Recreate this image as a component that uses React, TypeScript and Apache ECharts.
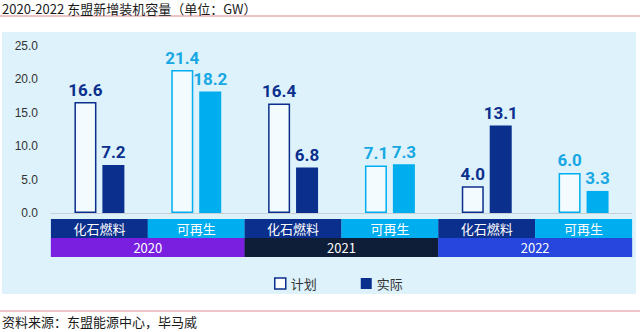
import React, { useEffect, useRef } from "react";
import * as echarts from "echarts";

const subCategories = ["化石燃料", "可再生", "化石燃料", "可再生", "化石燃料", "可再生"];
const years = ["2020", "2021", "2022"];
const planValues = [16.6, 21.4, 16.4, 7.1, 4.0, 6.0];
const actualValues = [7.2, 18.2, 6.8, 7.3, 13.1, 3.3];
const yTicks = [0, 5, 10, 15, 20, 25];

const NAVY = "#0b2f8c";
const CYAN = "#00aeef";
const CYAN_TEXT = "#17a8e3";
const YEAR_COLORS = ["#7a1ee0", "#0e1d38", "#2646de"];
const NUM_FONT = "Roboto, 'Liberation Sans', Arial, sans-serif";
const CJK_FONT = "'Noto Sans CJK SC', 'Noto Sans', sans-serif";

export default function App() {
  const ref = useRef<HTMLDivElement>(null);

  useEffect(() => {
    document.body.style.margin = "0";
    if (!ref.current) return;
    const chart = echarts.init(ref.current, undefined, { renderer: "svg" });

    const isFossil = (i: number) => subCategories[i] === "化石燃料";

    const option: any = {
      animation: false,
      backgroundColor: "#ffffff",
      graphic: [
        { type: "rect", z: -10, shape: { x: 2, y: 32, width: 634, height: 262 }, style: { fill: "#ddf2fb" } },
        { type: "line", shape: { x1: 0, y1: 16, x2: 640, y2: 16 }, style: { stroke: "#e08a93", lineWidth: 1.2 } },
        { type: "line", shape: { x1: 0, y1: 311, x2: 640, y2: 311 }, style: { stroke: "#e08a93", lineWidth: 1.2 } },
        {
          type: "text", left: 2, top: 2,
          style: { text: "2020-2022 东盟新增装机容量（单位：GW）", fill: "#1a1a1a", font: `13px ${CJK_FONT}` },
        },
        {
          type: "text", left: 2, top: 315,
          style: { text: "资料来源：东盟能源中心，毕马威", fill: "#1a1a1a", font: `13px ${CJK_FONT}` },
        },
      ],
      legend: {
        left: 269,
        top: 272,
        itemWidth: 11,
        itemHeight: 11,
        itemGap: 44,
        icon: "rect",
        textStyle: { color: "#333", fontSize: 13, fontFamily: CJK_FONT },
        data: [
          { name: "计划", itemStyle: { color: "#ffffff", borderColor: NAVY, borderWidth: 1.5 } },
          { name: "实际", itemStyle: { color: NAVY } },
        ],
      },
      grid: { left: 51, right: 8, top: 46, bottom: 119 },
      xAxis: [
        {
          type: "category",
          data: subCategories,
          axisLine: { lineStyle: { color: "#c9cfd4", width: 1 } },
          axisTick: { show: false },
          axisLabel: {
            margin: 6,
            interval: 0,
            formatter: (v: string, i: number) => (isFossil(i) ? `{f|${v}}` : `{r|${v}}`),
            rich: {
              f: { backgroundColor: NAVY, color: "#fff", width: 97, height: 19, lineHeight: 19, align: "center", fontSize: 13, fontFamily: CJK_FONT },
              r: { backgroundColor: CYAN, color: "#fff", width: 97, height: 19, lineHeight: 19, align: "center", fontSize: 13, fontFamily: CJK_FONT },
            },
          },
        },
        {
          type: "category",
          data: years,
          position: "bottom",
          offset: 19,
          axisLine: { show: false },
          axisTick: { show: false },
          axisLabel: {
            margin: 6,
            interval: 0,
            formatter: (v: string, i: number) => `{y${i}|${v}}`,
            rich: {
              y0: { backgroundColor: YEAR_COLORS[0], color: "#fff", width: 194, height: 19, lineHeight: 19, align: "center", fontSize: 13, fontFamily: CJK_FONT },
              y1: { backgroundColor: YEAR_COLORS[1], color: "#fff", width: 194, height: 19, lineHeight: 19, align: "center", fontSize: 13, fontFamily: CJK_FONT },
              y2: { backgroundColor: YEAR_COLORS[2], color: "#fff", width: 194, height: 19, lineHeight: 19, align: "center", fontSize: 13, fontFamily: CJK_FONT },
            },
          },
        },
      ],
      yAxis: {
        type: "value",
        min: yTicks[0],
        max: yTicks[yTicks.length - 1],
        interval: 5,
        splitLine: { show: false },
        axisLine: { show: false },
        axisTick: { show: false },
        axisLabel: {
          margin: 13,
          color: "#333",
          fontSize: 12,
          fontFamily: "'Liberation Sans', Arial, sans-serif",
          formatter: (v: number) => v.toFixed(1),
        },
      },
      series: [
        {
          name: "计划",
          type: "bar",
          xAxisIndex: 0,
          barWidth: 22,
          barGap: "27%",
          data: planValues.map((v, i) => ({
            value: v,
            itemStyle: { color: "#f3fbfe", borderColor: isFossil(i) ? NAVY : CYAN, borderWidth: 1.5 },
            label: { color: isFossil(i) ? NAVY : CYAN_TEXT },
          })),
          label: {
            show: true,
            position: "top",
            distance: 4,
            fontSize: 17,
            fontWeight: "bold",
            fontFamily: NUM_FONT,
            formatter: (p: any) => Number(p.value).toFixed(1),
          },
        },
        {
          name: "实际",
          type: "bar",
          xAxisIndex: 0,
          barWidth: 22,
          data: actualValues.map((v, i) => ({
            value: v,
            itemStyle: { color: isFossil(i) ? NAVY : CYAN },
            label: { color: isFossil(i) ? NAVY : CYAN_TEXT },
          })),
          label: {
            show: true,
            position: "top",
            distance: 4,
            fontSize: 17,
            fontWeight: "bold",
            fontFamily: NUM_FONT,
            formatter: (p: any) => Number(p.value).toFixed(1),
          },
        },
      ],
    };

    chart.setOption(option);
    return () => chart.dispose();
  }, []);

  return <div ref={ref} style={{ width: 640, height: 332 }} />;
}
